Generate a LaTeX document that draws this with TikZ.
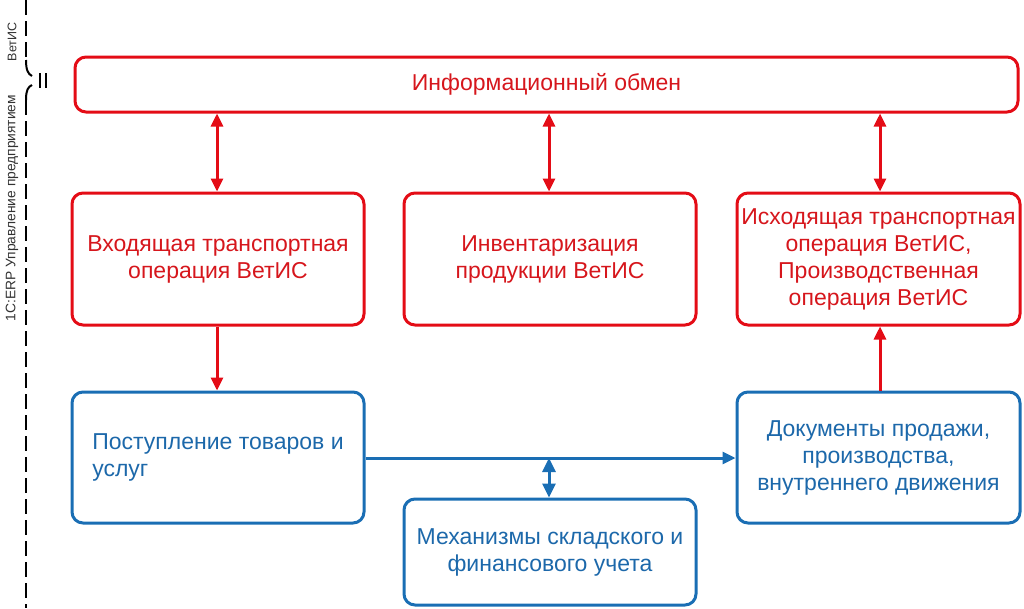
\documentclass[tikz,border=0pt]{standalone}
\usepackage{fontspec}
\setmainfont{Liberation Sans}
\usetikzlibrary{arrows.meta}
\definecolor{vred}{RGB}{228,12,22}
\definecolor{vredtxt}{RGB}{214,22,28}
\definecolor{vblue}{RGB}{26,110,180}
\definecolor{vbluetxt}{RGB}{28,104,170}
\definecolor{sidetxt}{RGB}{50,50,50}
\tikzset{
  boxbase/.style={line width=3pt, rounded corners=11pt, align=center, font=\fontsize{23}{27}\selectfont, inner sep=0pt},
  redbox/.style={boxbase, draw=vred, text=vredtxt},
  bluebox/.style={boxbase, draw=vblue, text=vbluetxt},
  redarr/.style={draw=vred, line width=3pt, -{Triangle[length=13pt,width=12pt]}},
  redbi/.style={draw=vred, line width=3pt, {Triangle[length=13pt,width=12pt]}-{Triangle[length=13pt,width=12pt]}},
  bluearr/.style={draw=vblue, line width=3pt, -{Triangle[length=13pt,width=12pt]}},
  bluebi/.style={draw=vblue, line width=3pt, {Triangle[length=14pt,width=13pt]}-{Triangle[length=14pt,width=13pt]}},
  sidelab/.style={text=sidetxt, rotate=90, inner sep=0pt},
  divider/.style={draw=black, line width=2pt, dash pattern=on 15pt off 6pt},
}
\begin{document}
\begin{tikzpicture}[x=1pt,y=-1pt]
\useasboundingbox (0,0) rectangle (1024,608);
% boxes
\node[redbox, minimum width=943pt, minimum height=55pt] (top) at (546.5,84.5) {Информационный обмен};
\node[redbox, minimum width=292pt, minimum height=132pt] (in) at (218,259) {Входящая транспортная\\операция ВетИС};
\node[redbox, minimum width=292pt, minimum height=132pt] (inv) at (550,259) {Инвентаризация\\продукции ВетИС};
\node[redbox, minimum width=283pt, minimum height=132pt] (out) at (878.5,259) {Исходящая транспортная\\операция ВетИС,\\Производственная\\операция ВетИС};
\node[bluebox, minimum width=292pt, minimum height=131pt, align=left] (rec) at (218,457.5) {Поступление товаров и\\услуг};
\node[bluebox, minimum width=283pt, minimum height=131pt] (docs) at (878.5,457.5) {Документы продажи,\\производства,\\внутреннего движения};
\node[bluebox, minimum width=292pt, minimum height=106pt] (mech) at (550,552) {Механизмы складского и\\финансового учета};
% arrows
\draw[redbi] (top.south -| 217,0) -- (in.north -| 217,0);
\draw[redbi] (top.south -| 549,0) -- (inv.north -| 549,0);
\draw[redbi] (top.south -| 880,0) -- (out.north -| 880,0);
\draw[redarr] (in.south -| 217,0) -- (rec.north -| 217,0);
\draw[redarr] (docs.north -| 880,0) -- (out.south -| 880,0);
\draw[bluearr] (rec.east |- 0,458) -- (docs.west |- 0,458);
\coordinate (junc) at (549,458);
\draw[bluebi] (junc) -- (mech.north -| junc);
% left divider
\coordinate (d0) at (26,0);
\coordinate (d1) at (26,60);
\coordinate (d2) at (32,76);
\coordinate (d3) at (32,85);
\coordinate (d4) at (26,100);
\coordinate (d5) at (26,608);
\draw[divider] (d0) -- (d1);
\draw[black, line width=2pt] (d1) .. controls (26,70) and (28,74) .. (d2);
\draw[black, line width=2pt] (d3) .. controls (28,87) and (26,90) .. (d4);
\draw[divider] (d4) -- (d5);
\coordinate (s1a) at (40,73); \coordinate (s1b) at (40,88);
\coordinate (s2a) at (46,73); \coordinate (s2b) at (46,88);
\draw[black, line width=1.3pt] (s1a) -- (s1b);
\draw[black, line width=1.3pt] (s2a) -- (s2b);
\node[sidelab, font=\fontsize{12.5}{14}\selectfont] (vetis) at (12,42) {ВетИС};
\node[sidelab, font=\fontsize{13.8}{15}\selectfont] (erp) at (12,208) {1С:ERP Управление предприятием};
\end{tikzpicture}
\end{document}
